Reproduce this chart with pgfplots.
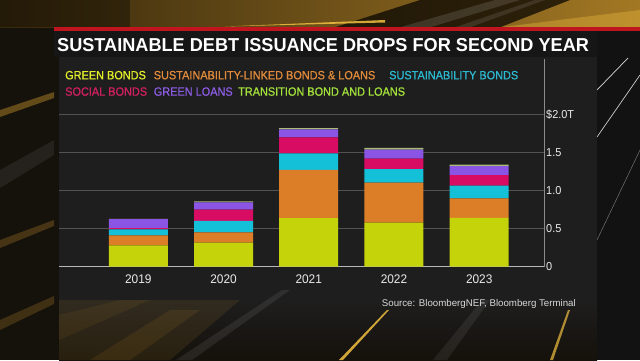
\documentclass[border=0pt]{standalone}
\usepackage{pgfplots}
\pgfplotsset{compat=1.18}
\usepackage{fontspec}
\setmainfont{Liberation Sans}
\newfontfamily\titlefont[FakeStretch=0.97]{Liberation Sans}
\newfontfamily\legfont[FakeStretch=0.91,FakeBold=0.8]{Liberation Sans}
\newfontfamily\tickfont[FakeStretch=0.95]{Liberation Sans}
\definecolor{bgdark}{HTML}{15110B}
\definecolor{panel}{HTML}{1E1E1E}
\definecolor{titlebar}{HTML}{161616}
\definecolor{redline}{HTML}{C0141E}
\definecolor{gold}{HTML}{D9A030}
\definecolor{goldL}{HTML}{F2C040}
\definecolor{cGreen}{HTML}{C5D30A}
\definecolor{cSLB}{HTML}{DC7E28}
\definecolor{cSust}{HTML}{14BFD8}
\definecolor{cSocial}{HTML}{D80C62}
\definecolor{cGL}{HTML}{8A55E4}
\definecolor{cTrans}{HTML}{A8BC78}
\definecolor{tGreen}{HTML}{E2EE2A}
\definecolor{tSLB}{HTML}{E08A3A}
\definecolor{tSust}{HTML}{2BB8D0}
\definecolor{tSocial}{HTML}{D2205E}
\definecolor{tGL}{HTML}{8C5CE2}
\definecolor{tTrans}{HTML}{A4E23C}
\pgfplotstableread{
x green slb sust social gl trans
0 0.280 0.130 0.080 0.015 0.120 0.003
1 0.315 0.135 0.150 0.150 0.095 0.013
2 0.636 0.633 0.219 0.210 0.105 0.017
3 0.579 0.523 0.180 0.135 0.119 0.022
4 0.640 0.258 0.165 0.140 0.118 0.018
}\debt
\begin{document}
\begin{tikzpicture}[x=1pt,y=1pt]
\useasboundingbox (0,0) rectangle (640,360);
% background
\fill[bgdark] (0,0) rectangle (640,360);
% top band
\shade[left color=gold!25!black, right color=gold!75!black] (0,332.7) rectangle (640,360);
\fill[black, opacity=0.35] (0,332.7) rectangle (130,360);
\fill[black, opacity=0.7] (335,332.7) -- (500,332.7) -- (570,360) -- (420,360) -- cycle;
\fill[white, opacity=0.12] (400,332.7) -- (430,332.7) -- (520,360) -- (495,360) -- cycle;
\fill[white, opacity=0.10] (455,332.7) -- (470,332.7) -- (545,360) -- (535,360) -- cycle;
\fill[goldL, opacity=0.85] (225,333.5) -- (385,340) -- (385,337.5) -- cycle;
\fill[goldL, opacity=0.35] (500,332.7) -- (640,332.7) -- (640,350) -- cycle;
% left strip streaks
\fill[gold, opacity=0.40] (0,250) -- (54,268) -- (54,262) -- (0,243) -- cycle;
\fill[gold, opacity=0.25] (0,120) -- (54,140) -- (54,134) -- (0,112) -- cycle;
\fill[gold, opacity=0.22] (0,40) -- (54,64) -- (54,56) -- (0,30) -- cycle;
\fill[white, opacity=0.07] (0,190) -- (54,220) -- (54,205) -- (0,172) -- cycle;
% right strip
\fill[black!93] (597,0) rectangle (640,329.3);
\draw[white!85!black, line width=0.7pt] (628,302) -- (597,270);
\draw[white!80!black, line width=0.7pt] (640,285) -- (597,223);
\draw[white!45!black, line width=0.5pt] (640,210) -- (597,120);
% panel
\fill[panel] (59,60) rectangle (597,303);
\shade[top color=panel, bottom color=bgdark] (59,0) rectangle (597,60);
% soft gold texture bottom left
\fill[gold, opacity=0.10] (59,0) -- (170,0) -- (240,60) -- (59,60) -- cycle;
\fill[gold, opacity=0.10] (90,0) -- (130,0) -- (200,50) -- (170,50) -- cycle;
\fill[gold, opacity=0.08] (59,20) -- (59,45) -- (120,60) -- (150,60) -- cycle;
% bottom rays
\fill[white, opacity=0.08] (176,0) -- (192,0) -- (290,70) -- (282,70) -- cycle;
\fill[white, opacity=0.07] (433,0) -- (447,0) -- (490,60) -- (482,60) -- cycle;
\fill[goldL, opacity=0.85] (339,0) -- (343,0) -- (389,50) -- (387,50) -- cycle;
\fill[goldL, opacity=0.70] (550,0) -- (553,0) -- (570,50) -- (568,50) -- cycle;
% title bar
\fill[titlebar] (54,303) rectangle (597,329.3);
\fill[redline] (54,329.3) rectangle (640,332.7);
% texts
\node[anchor=base west, inner sep=0pt, text=white] at (57,308.3) {\titlefont\fontsize{18.7}{20}\selectfont\bfseries SUSTAINABLE DEBT ISSUANCE DROPS FOR SECOND YEAR};
\begin{scope}[every node/.style={anchor=base west, inner sep=0pt, font=\legfont\fontsize{12}{14}\selectfont}]
\node[text=tGreen] at (65,280.7) {GREEN BONDS};
\node[text=tSLB] at (153.6,280.7) {SUSTAINABILITY-LINKED BONDS \& LOANS};
\node[text=tSust] at (389,280.7) {SUSTAINABILITY BONDS};
\node[text=tSocial] at (65,264.3) {SOCIAL BONDS};
\node[text=tGL] at (153.6,264.3) {GREEN LOANS};
\node[text=tTrans] at (238,264.3) {TRANSITION BOND AND LOANS};
\end{scope}
\node[anchor=base west, inner sep=0pt, text=white!85!black, font=\fontsize{9.7}{11}\selectfont] at (381.7,53.3) {Source: BloombergNEF, Bloomberg Terminal};
% chart
\begin{axis}[
  at={(59pt,93.3pt)}, anchor=south west,
  scale only axis, width=485pt, height=208.2pt,
  ybar stacked, bar width=59pt,
  xmin=-0.93, xmax=4.76, ymin=0, ymax=2.732,
  axis x line*=bottom, axis y line*=right,
  x axis line style={draw=white!72!black, line width=1.2pt, -},
  y axis line style={draw=white!55!black, line width=0.8pt, -},
  xtick=data, xticklabels={2019,2020,2021,2022,2023},
  ytick={0,0.5,1,1.5,2}, yticklabels={0,0.5,1.0,1.5,\$2.0T},
  major tick length=0pt,
  ymajorgrids, grid style={draw=white!32!black, line width=0.8pt},
  /pgf/number format/assume math mode=true,
  xticklabel style={anchor=north, inner sep=0pt, yshift=-8pt, text=white!92!black, font=\tickfont\fontsize{12.5}{14}\selectfont},
  yticklabel style={anchor=west, inner sep=0pt, xshift=2pt, text=white!92!black, font=\tickfont\fontsize{11.5}{13}\selectfont},
  every axis plot/.append style={draw=none},
]
\addplot[fill=cGreen] table[x=x,y=green]{\debt};
\addplot[fill=cSLB] table[x=x,y=slb]{\debt};
\addplot[fill=cSust] table[x=x,y=sust]{\debt};
\addplot[fill=cSocial] table[x=x,y=social]{\debt};
\addplot[fill=cGL] table[x=x,y=gl]{\debt};
\addplot[fill=cTrans] table[x=x,y=trans]{\debt};
\end{axis}
\end{tikzpicture}
\end{document}
